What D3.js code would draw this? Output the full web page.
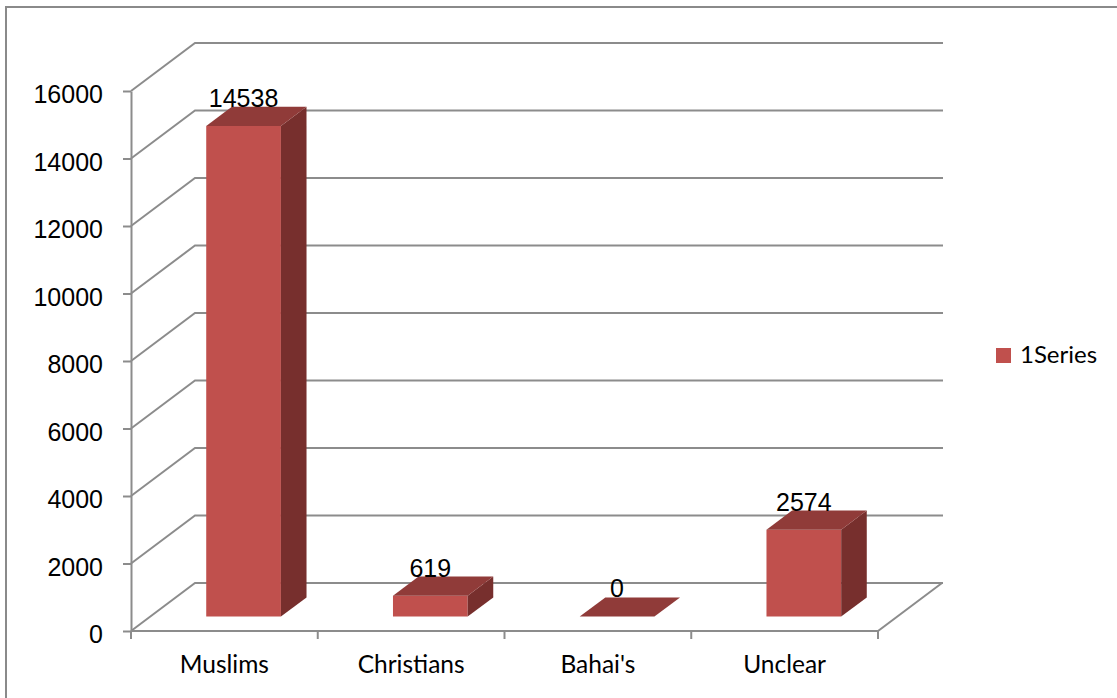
<!DOCTYPE html>
<html>
<head>
<meta charset="utf-8">
<script src="https://cdn.jsdelivr.net/npm/d3@7"></script>
<style>
  html, body { margin: 0; padding: 0; background: #fff; }
  svg { display: block; }
</style>
</head>
<body>
<svg id="chart" width="1117" height="698"></svg>
<script>
// ---- data ----
const categories = ["Muslims", "Christians", "Bahai's", "Unclear"];
const values = [14538, 619, 0, 2574];
const yTicks = [0, 2000, 4000, 6000, 8000, 10000, 12000, 14000, 16000];
const seriesName = "1Series";

// ---- layout ----
const W = 1117, H = 698;
const svg = d3.select("#chart");
svg.append("rect").attr("width", W).attr("height", H).attr("fill", "#fff");

// outer border (top + left visible)
svg.append("path")
  .attr("d", `M6,${H + 5} L6,7 L${W + 5},7`)
  .attr("fill", "none").attr("stroke", "#8a8a8a").attr("stroke-width", 2);

const x = d3.scaleBand().domain(categories).range([131, 878]).padding(0);
const y = d3.scaleLinear().domain([0, 16000]).range([631, 91]);
const DX = 64, DY = -48;          // full depth offset of floor
const backRight = 943;
const fFront = 0.3, fBack = 0.7;  // bar depth placement
const barW = x.bandwidth() / 2.5;
const gridColor = "#8c8c8c";

// back-wall gridlines with diagonal side-wall lines
const grid = svg.append("g").attr("fill", "none").attr("stroke", gridColor).attr("stroke-width", 2);
grid.selectAll("path.g").data(yTicks).join("path")
  .attr("class", "g")
  .attr("d", t => `M${x.range()[0]},${y(t)} L${x.range()[0] + DX},${y(t) + DY} L${backRight},${y(t) + DY}`);

// floor front + right edges
grid.append("path")
  .attr("d", `M${x.range()[0]},${y(0)} L${x.range()[1]},${y(0)} L${x.range()[1] + DX},${y(0) + DY}`);

// y axis
const yAxis = d3.axisLeft(y).tickValues(yTicks).tickFormat(d3.format("d"))
  .tickSize(8).tickSizeOuter(0).tickPadding(20);
const gy = svg.append("g").attr("transform", `translate(${x.range()[0]},0)`).call(yAxis);
gy.select(".domain").attr("stroke", gridColor).attr("stroke-width", 2);
gy.selectAll(".tick line").attr("stroke", gridColor).attr("stroke-width", 2);
gy.selectAll(".tick text")
  .attr("font-family", "'Liberation Sans', Arial, sans-serif")
  .attr("font-size", 25).attr("fill", "#000").attr("dy", "0.46em");

// category edge ticks
const edges = categories.map(c => x(c)).concat([x.range()[1]]);
svg.append("g").selectAll("line").data(edges).join("line")
  .attr("x1", d => d).attr("x2", d => d)
  .attr("y1", y(0)).attr("y2", y(0) + 8)
  .attr("stroke", gridColor).attr("stroke-width", 2);

// category labels
svg.append("g").selectAll("text").data(categories).join("text")
  .attr("x", c => x(c) + x.bandwidth() / 2)
  .attr("y", 673)
  .attr("text-anchor", "middle")
  .attr("font-family", "Lato, 'Open Sans', sans-serif")
  .attr("font-size", 24.5).attr("fill", "#000")
  .text(c => c);

// bars
const data = categories.map((c, i) => ({ c, v: values[i] }));
const bars = svg.append("g");
data.forEach(d => {
  const cx = x(d.c) + x.bandwidth() / 2 + DX * fFront;
  const x0 = cx - barW / 2, x1 = cx + barW / 2;
  const yb = y(0) + DY * fFront;
  const h = y(0) - y(d.v);
  const yt = yb - h;
  const ddx = DX * (fBack - fFront), ddy = DY * (fBack - fFront);
  const g = bars.append("g");
  if (h > 0.5) {
    g.append("path").attr("fill", "#c0504d")
      .attr("d", `M${x0},${yb} L${x1},${yb} L${x1},${yt} L${x0},${yt} Z`);
    g.append("path").attr("fill", "#772f2d")
      .attr("d", `M${x1},${yb} L${x1 + ddx},${yb + ddy} L${x1 + ddx},${yt + ddy} L${x1},${yt} Z`);
  }
  g.append("path").attr("fill", "#903b39")
    .attr("d", `M${x0},${yt} L${x1},${yt} L${x1 + ddx},${yt + ddy} L${x0 + ddx},${yt + ddy} Z`);
  // data label
  g.append("text")
    .attr("x", cx).attr("y", yt + ddy)
    .attr("text-anchor", "middle")
    .attr("font-family", "'Liberation Sans', Arial, sans-serif")
    .attr("font-size", 25).attr("fill", "#000")
    .text(d.v);
});

// legend
const lg = svg.append("g");
lg.append("rect").attr("x", 996).attr("y", 348).attr("width", 15).attr("height", 15).attr("fill", "#c0504d");
lg.append("text").attr("x", 1020).attr("y", 363)
  .attr("font-family", "Lato, 'Open Sans', sans-serif")
  .attr("font-size", 24).attr("fill", "#000")
  .text(seriesName);
</script>
</body>
</html>
